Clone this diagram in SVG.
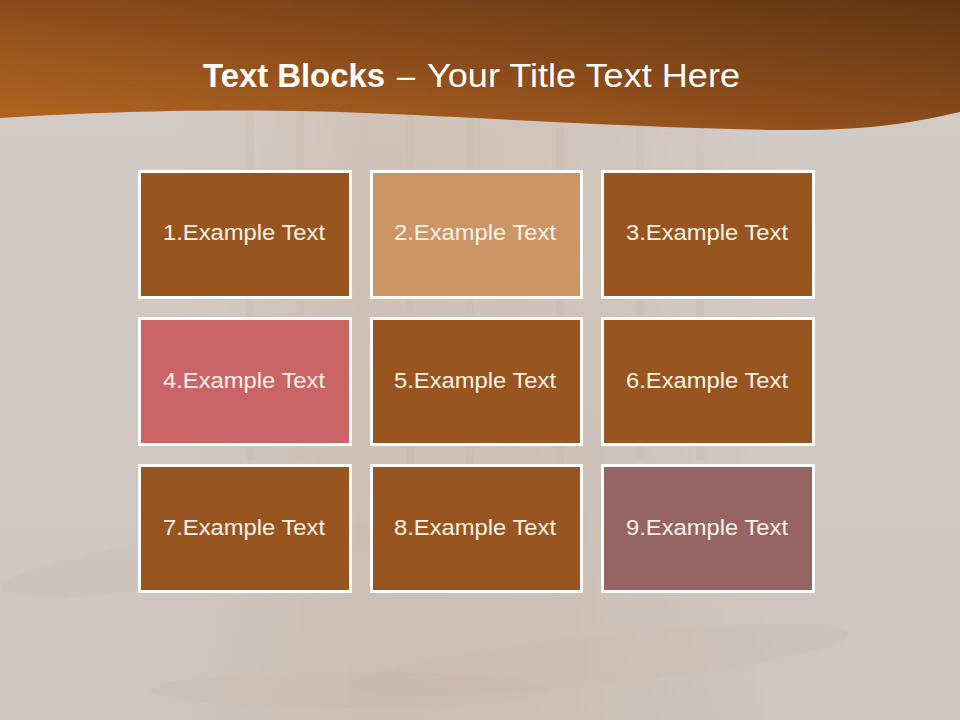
<svg xmlns="http://www.w3.org/2000/svg" width="960" height="720" viewBox="0 0 960 720">
  <defs>
    <linearGradient id="hdr" x1="0" y1="1" x2="1" y2="0">
      <stop offset="0" stop-color="#b5661f"/>
      <stop offset="0.5" stop-color="#8a4c1c"/>
      <stop offset="1" stop-color="#603511"/>
    </linearGradient>
    <linearGradient id="bg" x1="0" y1="0" x2="0" y2="1">
      <stop offset="0" stop-color="#d3ccc7"/>
      <stop offset="1" stop-color="#cdc5be"/>
    </linearGradient>
    <linearGradient id="wood" x1="0" y1="0" x2="1" y2="0">
      <stop offset="0" stop-color="#c9a58c" stop-opacity="0"/>
      <stop offset="0.3" stop-color="#c9a58c" stop-opacity="0.22"/>
      <stop offset="0.6" stop-color="#c9a58c" stop-opacity="0.18"/>
      <stop offset="1" stop-color="#c9a58c" stop-opacity="0"/>
    </linearGradient>
    <style>
      .box rect { stroke: #ffffff; stroke-width: 3; }
      .brown { fill: #98551f; }
      .tan { fill: #cb9565; }
      .rose { fill: #ca6466; }
      .mauve { fill: #976464; }
      .lbl { font-family: "Liberation Sans", Arial, sans-serif; font-size: 22px; fill: #fbf1e6; text-anchor: start; }
      .title { font-family: "Liberation Sans", Arial, sans-serif; font-size: 34px; fill: #ffffff; }
    </style>
  </defs>

  <!-- background -->
  <rect x="0" y="0" width="960" height="720" fill="url(#bg)"/>
  <rect x="180" y="100" width="600" height="620" fill="url(#wood)"/>
  <g stroke="#bfa593" stroke-opacity="0.1" stroke-width="8">
    <line x1="250" y1="110" x2="250" y2="460"/>
    <line x1="300" y1="110" x2="300" y2="460"/>
    <line x1="410" y1="110" x2="410" y2="470"/>
    <line x1="470" y1="110" x2="470" y2="470"/>
    <line x1="560" y1="110" x2="560" y2="470"/>
    <line x1="640" y1="110" x2="640" y2="460"/>
    <line x1="700" y1="110" x2="700" y2="460"/>
  </g>
  <g fill="#c7a488" fill-opacity="0.08">
    <ellipse cx="200" cy="560" rx="200" ry="25" transform="rotate(-8 200 560)"/>
    <ellipse cx="600" cy="660" rx="250" ry="25" transform="rotate(-6 600 660)"/>
    <ellipse cx="350" cy="690" rx="200" ry="18"/>
  </g>

  <!-- header -->
  <path d="M0 0 H960 V112 C900 126 850 131 780 130 C600 127 420 113 300 111 C180 109 80 113 0 118 Z" fill="url(#hdr)"/>
  <text x="203" y="87" class="title"><tspan font-weight="bold" textLength="182" lengthAdjust="spacingAndGlyphs">Text Blocks</tspan><tspan x="397" textLength="18" lengthAdjust="spacingAndGlyphs">–</tspan><tspan x="427" textLength="313" lengthAdjust="spacingAndGlyphs">Your Title Text Here</tspan></text>

  <!-- boxes -->
  <g id="box1" class="box"><rect class="brown" x="139.5" y="171.5" width="211" height="126"/><text class="lbl" x="163" y="240" textLength="162" lengthAdjust="spacingAndGlyphs">1.Example Text</text></g>
  <g id="box2" class="box"><rect class="tan" x="371.5" y="171.5" width="210" height="126"/><text class="lbl" x="394" y="240" textLength="162" lengthAdjust="spacingAndGlyphs">2.Example Text</text></g>
  <g id="box3" class="box"><rect class="brown" x="602.5" y="171.5" width="211" height="126"/><text class="lbl" x="626" y="240" textLength="162" lengthAdjust="spacingAndGlyphs">3.Example Text</text></g>

  <g id="box4" class="box"><rect class="rose" x="139.5" y="318.5" width="211" height="126"/><text class="lbl" x="163" y="388" textLength="162" lengthAdjust="spacingAndGlyphs">4.Example Text</text></g>
  <g id="box5" class="box"><rect class="brown" x="371.5" y="318.5" width="210" height="126"/><text class="lbl" x="394" y="388" textLength="162" lengthAdjust="spacingAndGlyphs">5.Example Text</text></g>
  <g id="box6" class="box"><rect class="brown" x="602.5" y="318.5" width="211" height="126"/><text class="lbl" x="626" y="388" textLength="162" lengthAdjust="spacingAndGlyphs">6.Example Text</text></g>

  <g id="box7" class="box"><rect class="brown" x="139.5" y="465.5" width="211" height="126"/><text class="lbl" x="163" y="535" textLength="162" lengthAdjust="spacingAndGlyphs">7.Example Text</text></g>
  <g id="box8" class="box"><rect class="brown" x="371.5" y="465.5" width="210" height="126"/><text class="lbl" x="394" y="535" textLength="162" lengthAdjust="spacingAndGlyphs">8.Example Text</text></g>
  <g id="box9" class="box"><rect class="mauve" x="602.5" y="465.5" width="211" height="126"/><text class="lbl" x="626" y="535" textLength="162" lengthAdjust="spacingAndGlyphs">9.Example Text</text></g>

  <g id="connectors"></g>
</svg>
